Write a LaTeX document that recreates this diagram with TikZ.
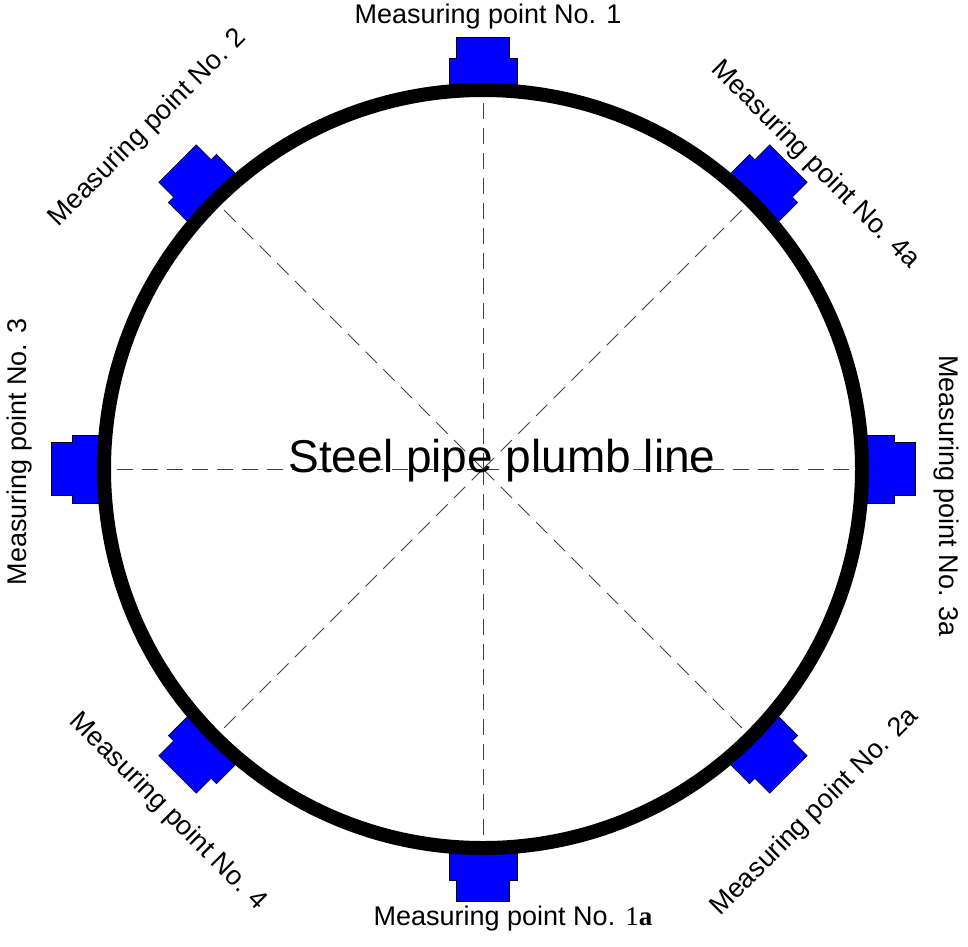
\documentclass[tikz,border=0pt]{standalone}
\usepackage{fontspec}
\setmainfont{Liberation Sans}
\newfontfamily\serifff{Liberation Serif}
\begin{document}
\begin{tikzpicture}[x=1pt,y=1pt,
  lbl/.style={font=\fontsize{27}{30}\selectfont,inner sep=0pt},
  blk/.style={fill=blue,draw=black,line width=0.6pt}]
\useasboundingbox (0,0) rectangle (968,-946);
\coordinate (c) at (483,-469);
\foreach \a in {0,45,...,315}{
  \draw[dash pattern=on 16pt off 9pt,line width=1pt,black!75] (c) -- ++(\a:372);
  \begin{scope}[shift={(c)},rotate=\a-90]
    \draw[blk] (-34,382) -- (-34,411) -- (-26.5,411) -- (-26.5,432) -- (26.5,432) -- (26.5,411) -- (34,411) -- (34,382) -- cycle;
  \end{scope}
}
\draw[line width=14pt] (c) circle (379);
\node[font=\fontsize{46}{50}\selectfont] (t) at (502,-461) {Steel pipe plumb line};
\node[lbl] (m1) at (488,-17) {Measuring point No. 1};
\node[lbl] (m1a) at (513,-918) {Measuring point No. {\serifff 1\textbf{a}}};
\node[lbl,rotate=90] (m3) at (20,-452) {Measuring point No. 3};
\node[lbl,rotate=-90] (m3a) at (946,-496) {Measuring point No. 3a};
\node[lbl,rotate=45] (m2) at (148,-128) {Measuring point No. 2};
\node[lbl,rotate=-45] (m4a) at (815,-165) {Measuring point No. 4a};
\node[lbl,rotate=-45] (m4) at (168,-812) {Measuring point No. 4};
\node[lbl,rotate=45] (m2a) at (815,-812) {Measuring point No. 2a};
\end{tikzpicture}
\end{document}
